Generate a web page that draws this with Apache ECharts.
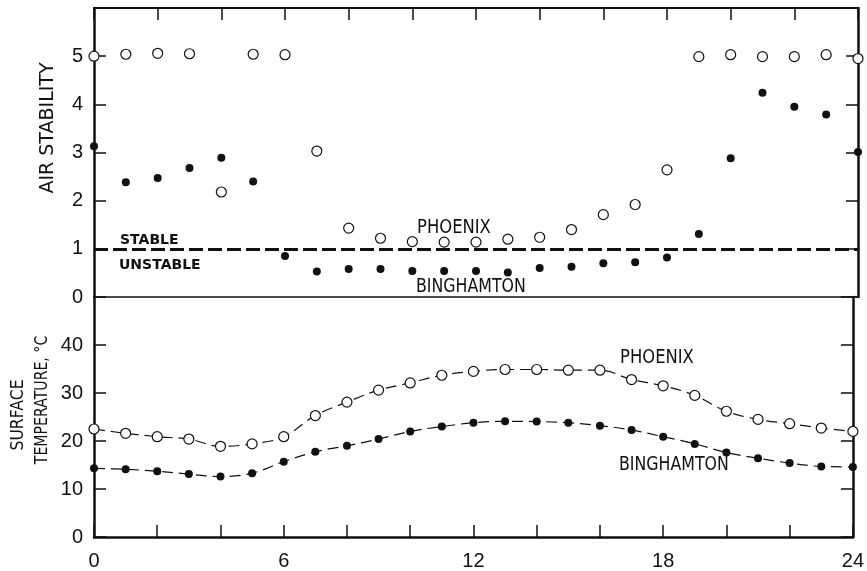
<!DOCTYPE html>
<html>
<head>
<meta charset="utf-8">
<script src="https://cdn.jsdelivr.net/npm/echarts@6/dist/echarts.min.js"></script>
<style>
html,body{margin:0;padding:0;background:#fff;}
#chart{width:867px;height:571px;}
</style>
</head>
<body>
<div id="chart"></div>
<script>
// ---- data ----
const hours = [0,1,2,3,4,5,6,7,8,9,10,11,12,13,14,15,16,17,18,19,20,21,22,23,24];
const xTickLabels = [0,6,12,18,24];
const stabilityTicks = [0,1,2,3,4,5];
const tempTicks = [0,10,20,30,40];
const phoenixStability = [5.00,5.04,5.06,5.05,2.18,5.04,5.03,3.03,1.43,1.22,1.15,1.14,1.14,1.20,1.24,1.40,1.71,1.92,2.64,4.99,5.03,4.99,4.99,5.03,4.95];
const binghamtonStability = [3.13,2.38,2.47,2.68,2.89,2.40,0.85,0.53,0.58,0.58,0.54,0.54,0.54,0.51,0.60,0.63,0.70,0.72,0.82,1.31,2.88,4.24,3.95,3.79,3.01];
const phoenixTemp = [22.5,21.6,20.9,20.4,18.9,19.4,20.9,25.3,28.1,30.6,32.1,33.7,34.5,34.9,34.9,34.75,34.75,32.8,31.5,29.5,26.2,24.5,23.6,22.7,22.0];
const binghamtonTemp = [14.3,14.1,13.7,13.1,12.6,13.3,15.7,17.75,19.0,20.4,22.0,23.0,23.8,24.1,24.05,23.8,23.2,22.3,20.9,19.4,17.6,16.4,15.4,14.7,14.6];
const stableThreshold = 1;

const FONT = "'DejaVu Sans', sans-serif";
const TICKFONT = "'Liberation Sans', 'DejaVu Sans', sans-serif";
const pairs = (ys) => hours.map((h, i) => [h, ys[i]]);

const chart = echarts.init(document.getElementById('chart'), null, {renderer: 'canvas'});

const openSym = {color: '#fff', borderColor: '#111', borderWidth: 1.2, opacity: 1};
const fillSym = {color: '#111', borderColor: '#111', borderWidth: 0, opacity: 1};

function xAx(grid, pos, opts) {
  return Object.assign({
    type: 'value', gridIndex: grid, position: pos, min: 0, max: 24, interval: 2,
    axisLine: {show: true, onZero: false, lineStyle: {color: '#111', width: 2}},
    axisTick: {show: true, inside: true, length: 12, lineStyle: {color: '#111', width: 1.5}},
    axisLabel: {show: false},
    splitLine: {show: false}
  }, opts);
}
function yAx(grid, pos, max, interval, opts) {
  return Object.assign({
    type: 'value', gridIndex: grid, position: pos, min: 0, max: max, interval: interval,
    axisLine: {show: true, onZero: false, lineStyle: {color: '#111', width: 2.5}},
    axisTick: {show: true, inside: true, length: 12, lineStyle: {color: '#111', width: 1.5}},
    axisLabel: {show: false},
    splitLine: {show: false}
  }, opts);
}
function txt(text, x, y, size, sx, opts) {
  return Object.assign({
    type: 'text', x: x, y: y, scaleX: sx,
    style: {text: text, font: size + 'px ' + FONT, fill: '#111', align: 'left', verticalAlign: 'middle'}
  }, opts || {});
}

const option = {
  backgroundColor: '#fff',
  animation: false,
  grid: [
    {left: 94, right: 9, top: 8, height: 289},
    {left: 94, right: 9, top: 297, height: 240}
  ],
  xAxis: [
    xAx(0, 'bottom', {axisTick: {show: false}, axisLine: {show: true, onZero: false, lineStyle: {color: '#111', width: 1.5}}}),
    xAx(0, 'top', {}),
    xAx(1, 'bottom', {
      axisLine: {show: true, onZero: false, lineStyle: {color: '#111', width: 2.5}},
      axisLabel: {show: true, margin: 14, color: '#111', fontFamily: TICKFONT, fontSize: 20,
        formatter: v => xTickLabels.includes(v) ? String(v) : ''}
    })
  ],
  yAxis: [
    yAx(0, 'left', 6, 1, {axisLabel: {show: true, margin: 11, color: '#111', fontFamily: TICKFONT, fontSize: 20,
      formatter: v => stabilityTicks.includes(v) ? String(v) : ''}}),
    yAx(0, 'right', 6, 1, {}),
    yAx(1, 'left', 50, 10, {axisLabel: {show: true, margin: 11, color: '#111', fontFamily: TICKFONT, fontSize: 20,
      formatter: v => tempTicks.includes(v) ? String(v) : ''}}),
    yAx(1, 'right', 50, 10, {})
  ],
  series: [
    {
      name: 'Phoenix stability', type: 'scatter', xAxisIndex: 0, yAxisIndex: 0,
      data: pairs(phoenixStability), symbol: 'circle', symbolSize: 10, itemStyle: openSym, z: 3,
      markLine: {
        silent: true, symbol: 'none', label: {show: false},
        lineStyle: {color: '#111', width: 3, type: [14, 5]},
        data: [{yAxis: stableThreshold}]
      }
    },
    {
      name: 'Binghamton stability', type: 'scatter', xAxisIndex: 0, yAxisIndex: 0,
      data: pairs(binghamtonStability), symbol: 'circle', symbolSize: 8, itemStyle: fillSym, z: 3
    },
    {
      name: 'Phoenix temperature', type: 'line', xAxisIndex: 2, yAxisIndex: 2,
      data: pairs(phoenixTemp), smooth: 0.4, symbol: 'circle', symbolSize: 10, showAllSymbol: true,
      itemStyle: openSym, lineStyle: {color: '#111', width: 1.2, type: [11, 6]}, z: 3
    },
    {
      name: 'Binghamton temperature', type: 'line', xAxisIndex: 2, yAxisIndex: 2,
      data: pairs(binghamtonTemp), smooth: 0.4, symbol: 'circle', symbolSize: 8, showAllSymbol: true,
      itemStyle: fillSym, lineStyle: {color: '#111', width: 1.2, type: [11, 6]}, z: 3
    }
  ],
  graphic: [
    {type: 'text', x: 48, y: 128, rotation: Math.PI / 2, scaleX: 0.95,
      style: {text: 'AIR STABILITY', font: '20px ' + FONT, fill: '#111', align: 'center', verticalAlign: 'middle'}},
    {type: 'text', x: 19, y: 415, rotation: Math.PI / 2, scaleX: 0.92,
      style: {text: 'SURFACE', font: '17px ' + FONT, fill: '#111', align: 'center', verticalAlign: 'middle'}},
    {type: 'text', x: 43, y: 400, rotation: Math.PI / 2, scaleX: 0.83,
      style: {text: 'TEMPERATURE, °C', font: '17px ' + FONT, fill: '#111', align: 'center', verticalAlign: 'middle'}},
    {type: 'text', x: 120, y: 240,
      style: {text: 'STABLE', font: 'bold 14px ' + FONT, fill: '#111', align: 'left', verticalAlign: 'middle'}},
    {type: 'text', x: 119, y: 265,
      style: {text: 'UNSTABLE', font: 'bold 14px ' + FONT, fill: '#111', align: 'left', verticalAlign: 'middle'}},
    txt('PHOENIX', 417, 228, 20, 0.82),
    txt('BINGHAMTON', 416, 287, 20, 0.79),
    txt('PHOENIX', 620, 358, 20, 0.82),
    txt('BINGHAMTON', 619, 465, 20, 0.79)
  ]
};
chart.setOption(option);
</script>
</body>
</html>
